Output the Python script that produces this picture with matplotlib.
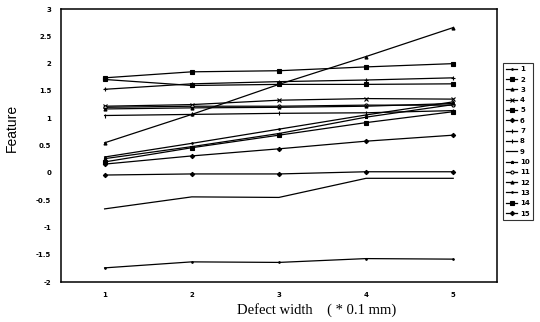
import matplotlib.pyplot as plt

widths = [1, 2, 3, 4, 5]

f1 = [0.29, 0.54, 0.80, 1.06, 1.30]
f2 = [1.74, 1.85, 1.87, 1.94, 2.00]
f3 = [0.55, 1.07, 1.62, 2.13, 2.66]
f4 = [1.22, 1.25, 1.33, 1.36, 1.35]
f5 = [1.71, 1.60, 1.62, 1.62, 1.63]
f6 = [0.16, 0.31, 0.44, 0.58, 0.69]
f7 = [1.53, 1.63, 1.67, 1.70, 1.74]
f8 = [1.05, 1.07, 1.09, 1.10, 1.14]
f9 = [-0.66, -0.44, -0.45, -0.10, -0.10]
f10 = [0.26, 0.48, 0.72, 1.02, 1.25]
f11 = [1.20, 1.22, 1.22, 1.24, 1.24]
f12 = [1.17, 1.19, 1.20, 1.22, 1.27]
f13 = [-1.74, -1.63, -1.64, -1.57, -1.58]
f14 = [0.20, 0.46, 0.69, 0.92, 1.12]
f15 = [-0.04, -0.02, -0.02, 0.02, 0.02]

series = [f1, f2, f3, f4, f5, f6, f7, f8, f9, f10, f11, f12, f13, f14, f15]
labels = [str(i) for i in range(1, 16)]
markers = ['.', 's', '^', 'x', 's', 'D', '+', '|', None, '*', 'o', '^', '.', 's', 'D']

fig = plt.figure(figsize=(5.4, 3.22), dpi=100)
ax = fig.add_axes([0.113, 0.124, 0.807, 0.848])

for vals, lab, mk in zip(series, labels, markers):
    face = 'white' if mk == 'o' else 'black'
    ax.plot(widths, vals, color='black', lw=0.9, marker=mk, ms=2.2,
            mfc=face, mec='black', mew=0.8, label=lab)

ax.set_xlim(0.5, 5.5)
ax.set_ylim(-2, 3)
ax.set_xticks(widths)
ax.set_yticks([-2, -1.5, -1, -0.5, 0, 0.5, 1, 1.5, 2, 2.5, 3])
ax.set_yticklabels(['-2', '-1.5', '-1', '-0.5', '0', '0.5', '1', '1.5', '2', '2.5', '3'])
ax.tick_params(length=0, labelsize=5, pad=7)
for t in ax.get_xticklabels() + ax.get_yticklabels():
    t.set_fontweight('bold')
for s in ax.spines.values():
    s.set_linewidth(1.1)

ax.set_xlabel('Defect width    ( * 0.1 mm)', family='Liberation Serif', fontsize=10.5)
ax.xaxis.set_label_coords(0.586, -0.078)
ax.set_ylabel('Feature', family='Liberation Sans', fontsize=10)
ax.yaxis.set_label_coords(-0.097, 0.566)

leg = ax.legend(loc='upper left', bbox_to_anchor=(0.931, 0.805),
                bbox_transform=fig.transFigure,
                prop={'weight': 'bold', 'size': 5}, handlelength=1.6,
                handletextpad=0.4, labelspacing=0.62, borderpad=0.5,
                fancybox=False, edgecolor='black', borderaxespad=0)
leg.get_frame().set_linewidth(0.8)

fig.savefig('out.png', dpi=100)
